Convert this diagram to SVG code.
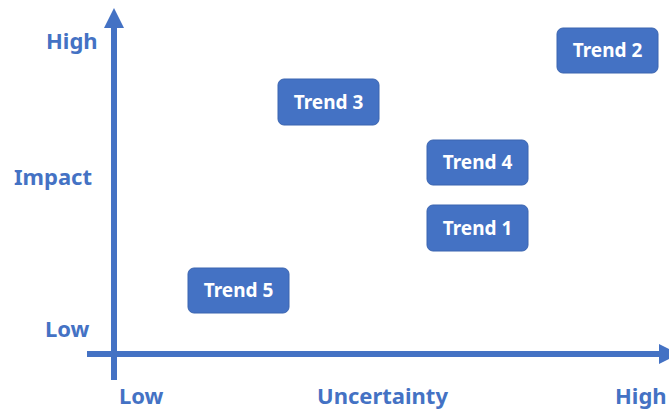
<svg xmlns="http://www.w3.org/2000/svg" width="669" height="411" viewBox="0 0 669 411">
<style>
.axis{stroke:#4472C4;stroke-width:6;fill:none}
.head{fill:#4472C4}
.lbl{font-family:"Noto Sans","Liberation Sans",sans-serif;font-weight:bold;font-size:22px;fill:#4472C4}
.box{fill:#4472C4;stroke:#3A64B0;stroke-width:1}
.bt{font-family:"Noto Sans","Liberation Sans",sans-serif;font-weight:bold;font-size:19px;fill:#FFFFFF;text-anchor:middle}
</style>
<rect width="669" height="411" fill="#FFFFFF"/>
<g id="connectors">
<line class="axis" x1="114" y1="380" x2="114" y2="25"/>
<polygon class="head" points="114,8 104,28 124,28"/>
<line class="axis" x1="87" y1="354" x2="662" y2="354"/>
<polygon class="head" points="679,354 659,344 659,364"/>
</g>
<g id="labels">
<text class="lbl" x="46" y="49">High</text>
<text class="lbl" x="14" y="185">Impact</text>
<text class="lbl" x="45" y="337">Low</text>
<text class="lbl" x="119" y="404">Low</text>
<text class="lbl" x="317" y="404">Uncertainty</text>
<text class="lbl" x="615" y="404">High</text>
</g>
<g id="trend2"><rect class="box" x="557" y="28" width="101" height="45" rx="6"/><text class="bt" x="607.5" y="57">Trend 2</text></g>
<g id="trend3"><rect class="box" x="278" y="79" width="101" height="46" rx="6"/><text class="bt" x="328.5" y="109">Trend 3</text></g>
<g id="trend4"><rect class="box" x="427" y="140" width="101" height="45" rx="6"/><text class="bt" x="477.5" y="169">Trend 4</text></g>
<g id="trend1"><rect class="box" x="427" y="205" width="101" height="46" rx="6"/><text class="bt" x="477.5" y="235">Trend 1</text></g>
<g id="trend5"><rect class="box" x="188" y="268" width="101" height="45" rx="6"/><text class="bt" x="238.5" y="297">Trend 5</text></g>
</svg>
